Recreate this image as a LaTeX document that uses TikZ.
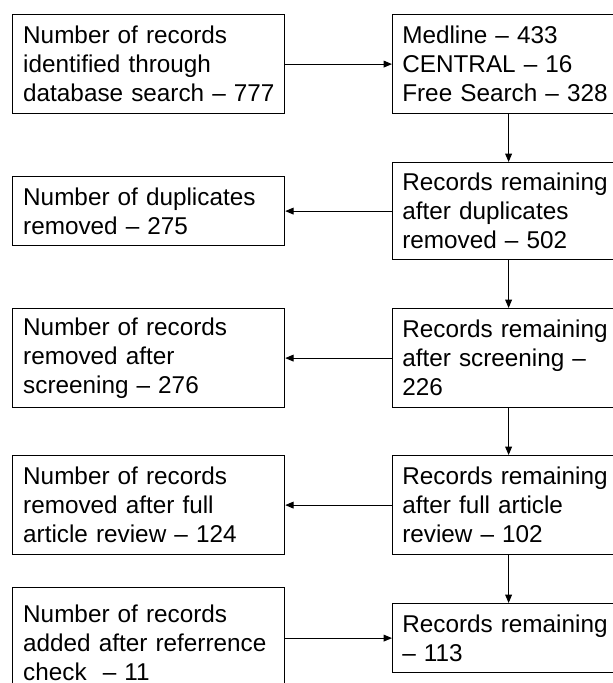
\documentclass[tikz,border=0pt]{standalone}
\usepackage{fontspec}
\setmainfont{Liberation Sans}
\usetikzlibrary{arrows.meta}

\begin{document}
\begin{tikzpicture}[
  x=0.5pt, y=-0.5pt,
  font=\fontsize{12.15}{14.5}\selectfont,
  bx/.style={draw, line width=0.6pt, anchor=north west, align=left,
             inner ysep=0pt, minimum height=#1},
  lbx/.style={bx=#1, text width=125.4pt, inner xsep=5.3pt},
  rbx/.style={bx=#1, text width=106.3pt, inner xsep=4.85pt},
  arr/.style={-{Triangle[length=4.2pt,width=3.4pt]}, line width=0.5pt}
]
\useasboundingbox (0,0) rectangle (613,683);
% left column
\node[lbx=49.5pt] (search)    at (12,14)  {Number of records\\identified through\\\mbox{database search – 777}};
\node[lbx=34.5pt] (dupl)      at (12,176) {Number of duplicates\\removed – 275};
\node[lbx=49.5pt] (screenout) at (12,308) {Number of records\\removed after\\screening – 276};
\node[lbx=49.5pt] (fullout)   at (12,455) {Number of records\\removed after full\\article review – 124};
\node[lbx=55pt]   (refadd)    at (12,587) {Number of records\\\mbox{added after referrence}\\check\ \ – 11};
% right column
\node[rbx=49.5pt] (sources)     at (392,14)  {Medline – 433\\CENTRAL – 16\\\mbox{Free Search – 328}};
\node[rbx=48.5pt] (afterdupl)   at (392,162) {\mbox{Records remaining}\\after duplicates\\removed – 502};
\node[rbx=49.5pt] (afterscreen) at (392,308) {\mbox{Records remaining}\\\mbox{after screening –}\\226};
\node[rbx=49.5pt] (afterfull)   at (392,455) {\mbox{Records remaining}\\after full article\\review – 102};
\node[rbx=34.5pt] (final)       at (392,603) {\mbox{Records remaining}\\– 113};
% connectors
\draw[arr] (search.east) -- (sources.west);
\draw[arr] (sources.south) -- (afterdupl.north);
\draw[arr] (afterdupl.west) -- (dupl.east);
\draw[arr] (afterdupl.south) -- (afterscreen.north);
\draw[arr] (afterscreen.west) -- (screenout.east);
\draw[arr] (afterscreen.south) -- (afterfull.north);
\draw[arr] (afterfull.west) -- (fullout.east);
\draw[arr] (afterfull.south) -- (final.north);
\draw[arr] (refadd.east |- final.west) -- (final.west);
\end{tikzpicture}
\end{document}
